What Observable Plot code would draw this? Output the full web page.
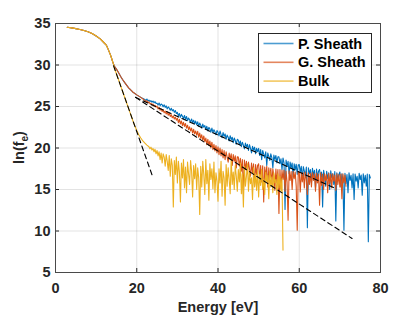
<!DOCTYPE html>
<html><head><meta charset="utf-8">
<script src="https://cdn.jsdelivr.net/npm/d3@7"></script>
<script src="https://cdn.jsdelivr.net/npm/@observablehq/plot@0.6"></script>
<style>
html,body{margin:0;padding:0;background:#fff;}
</style>
</head><body><div id="chart"></div>
<script>
// ---- tick labels / categories ----
const xTicks = [0, 20, 40, 60, 80];
const yTicks = [5, 10, 15, 20, 25, 30, 35];
const seriesNames = ["P. Sheath", "G. Sheath", "Bulk"];
const seriesColors = ["#0072BD", "#D95319", "#EDB120"];
const xLabel = "Energy [eV]";

// ---- common low-energy part (all three series) ----
const headEnergy = [2.9, 4, 5, 6, 7, 8, 9, 10, 11, 12, 12.5, 13, 13.5, 13.75, 14, 14.25];
const headLnF = [34.55, 34.47, 34.38, 34.28, 34.16, 34.0, 33.8, 33.5, 33.15, 32.65, 32.4, 31.85, 31.25, 30.9, 30.5, 30.15];

// ---- smooth sheath part (shared by P. and G. sheath) ----
const sheathEnergy = [14.5, 15, 15.5, 16, 16.5, 17, 18, 19, 20, 21];
const sheathLnF = [29.85, 29.5, 29.1, 28.65, 28.25, 27.9, 27.25, 26.75, 26.4, 26.1];

// ---- smooth bulk part ----
const bulkSmoothEnergy = [14.5, 15, 15.5, 16, 16.5, 17, 17.5, 18, 18.5, 19, 19.5, 20, 20.5, 21, 21.5, 22, 22.5];
const bulkSmoothLnF = [29.6, 28.95, 28.25, 27.55, 26.85, 26.15, 25.45, 24.75, 24.05, 23.35, 22.7, 22.1, 21.6, 21.2, 20.85, 20.6, 20.35];

// ---- noisy parts, sampled every 0.25 eV ----
const noiseStep = 0.25;
const pSheathNoiseStart = 22;
const pSheathNoise = [
 25.85,25.72,25.90,25.66,25.78,25.60,25.70,25.52,25.66,25.45,25.58,25.38,
 25.40,25.18,25.42,25.10,25.30,25.22,24.98,25.20,24.90,25.08,24.72,24.95,24.80,24.55,24.78,24.48,24.62,24.30,24.52,24.15,
 24.30,23.85,24.15,23.70,24.05,23.82,23.55,23.92,23.45,23.80,23.30,23.62,23.40,23.12,23.50,23.05,23.35,22.92,23.25,22.80,
 23.15,22.62,23.00,22.75,22.40,22.88,22.50,22.70,22.25,22.62,22.05,22.48,22.30,21.90,22.40,21.85,22.20,21.95,21.60,22.10,
 21.90,21.45,22.05,21.60,21.25,21.85,21.40,21.70,21.05,21.55,21.30,20.85,21.48,21.00,21.30,20.65,21.20,20.90,20.45,21.05,
 20.95,20.40,20.85,20.15,20.70,20.35,19.90,20.60,20.10,20.45,19.70,20.40,19.95,19.40,20.20,19.75,20.10,19.30,19.95,19.55,
 19.95,19.10,19.80,18.60,19.70,19.25,18.80,19.55,17.90,19.40,19.00,18.50,19.30,18.85,17.60,19.15,18.60,19.10,18.20,18.95,
 18.95,18.10,18.70,17.40,18.80,18.20,12.60,18.55,17.80,18.40,16.90,18.30,17.60,18.20,16.50,18.10,17.40,18.05,16.80,17.95,
 18.00,17.10,17.80,16.20,17.75,17.20,16.60,17.70,10.40,17.60,16.90,17.40,15.80,17.55,16.70,17.30,15.20,17.45,16.40,17.20,
 17.40,16.50,17.10,12.90,17.30,16.60,15.40,17.20,16.30,17.00,15.00,17.25,16.40,16.90,15.60,17.15,11.20,17.00,16.20,16.80,
 17.10,15.30,16.90,16.20,10.10,16.95,15.70,16.80,14.60,17.00,16.10,16.70,15.20,16.90,13.80,16.85,16.00,16.60,15.20,16.95,
 16.20,16.75,14.30,16.90,15.80,16.70,15.40,16.85,8.70,16.80,16.40
];
const gSheathNoiseStart = 22;
const gSheathNoise = [
 25.72,25.58,25.70,25.45,25.55,25.32,25.40,25.20,25.30,25.05,25.15,24.92,
 25.05,24.70,24.88,24.55,24.72,24.40,24.60,24.25,24.45,24.10,24.35,23.95,24.20,23.80,24.02,23.65,23.85,23.50,23.72,23.35,
 23.60,23.05,23.45,22.90,23.25,22.70,23.10,22.60,22.95,22.40,22.75,22.20,22.55,22.05,22.40,21.80,22.25,21.70,22.05,21.55,
 22.00,21.30,21.80,21.15,21.60,20.90,21.45,20.75,21.20,20.40,21.05,20.30,20.85,20.00,20.70,19.80,20.45,19.65,20.30,19.40,
 20.15,19.20,20.00,19.05,19.80,18.80,19.70,18.60,19.55,18.90,18.30,19.40,18.65,19.30,17.90,19.20,18.40,19.05,17.60,18.95,
 18.90,17.80,18.75,17.20,18.60,14.50,18.55,17.40,18.40,16.90,18.30,17.50,16.60,18.20,17.00,18.10,15.40,18.00,16.80,17.90,
 18.10,16.20,17.90,15.90,17.85,13.50,17.70,16.50,17.80,15.30,17.60,16.40,17.55,15.70,17.50,16.60,14.90,17.45,15.80,17.40,
 12.10,17.40,15.10,17.30,16.20,17.35,14.80,17.20,15.90,11.30,17.25,16.10,17.15,15.00,17.20,16.30,17.10,15.40,10.10,17.15,
 17.10,14.70,17.05,15.90,17.00,15.20,17.10,16.20,14.40,17.00,15.60,16.95,15.30,17.05,16.10,16.90,14.80,16.95,15.80,16.85,
 13.10,17.00,15.50,16.85,15.00,16.90,16.10,16.80,14.60,16.95,15.70,16.85,15.20,16.90,16.00,16.75,14.90,16.90,15.60,16.80,
 15.30,16.85,13.90,16.90,15.80,16.75,15.40
];
const bulkNoiseStart = 23;
const bulkNoise = [
 20.15,19.90,20.10,19.75,19.95,19.55,19.85,19.30,
 19.70,19.05,19.55,18.60,19.40,18.20,19.30,18.90,17.80,19.20,18.40,17.30,19.10,16.60,18.70,17.90,12.90,18.50,16.80,18.90,
 15.80,18.40,17.10,13.50,18.20,16.40,18.60,15.20,17.70,14.60,18.30,16.90,15.60,18.50,17.20,14.10,17.90,16.30,18.10,15.00,
 17.60,16.40,12.00,17.80,15.30,18.40,16.80,14.40,18.60,15.70,17.30,13.70,18.10,16.20,17.50,15.10,18.30,14.60,17.00,16.00,
 13.60,17.50,15.80,18.40,14.20,17.20,16.40,13.10,18.00,15.40,17.60,16.20,14.50,18.70,15.60,17.10,15.00,17.90,16.60,14.80,
 17.40,15.90,18.20,14.50,16.90,12.90,17.80,15.40,16.60,18.10,14.80,17.20,15.70,16.40,13.80,17.60,15.30,16.90,14.90,17.30,
 14.10,16.80,15.50,17.40,15.00,16.30,14.40,17.10,15.90,16.70,13.90,17.20,15.30,16.50,14.60,17.00,15.80,16.20,14.40,16.90,
 15.20,16.60,14.80,16.30,7.70
];

// ---- exponential fit lines (dashed) ----
const fitBulkEnergy = [14.3, 23.8];
const fitBulkLnF = [29.9, 16.7];
const fitPEnergy = [19.7, 69];
const fitPLnF = [26.1, 15.1];
const fitGEnergy = [19.7, 73];
const fitGLnF = [26.1, 9.1];

// ---- build tables ----
const rows = (E, Y) => E.map((e, i) => ({energy: e, lnf: Y[i]}));
const gridRows = (start, Y) => Y.map((y, i) => ({energy: start + i * noiseStep, lnf: y}));
const head = rows(headEnergy, headLnF);
const sheathSmooth = rows(sheathEnergy, sheathLnF);
const pData = [...head, ...sheathSmooth, ...gridRows(pSheathNoiseStart, pSheathNoise)];
const gData = [...head, ...sheathSmooth, ...gridRows(gSheathNoiseStart, gSheathNoise)];
const bData = [...head, ...rows(bulkSmoothEnergy, bulkSmoothLnF), ...gridRows(bulkNoiseStart, bulkNoise)];
const fits = [rows(fitBulkEnergy, fitBulkLnF), rows(fitPEnergy, fitPLnF), rows(fitGEnergy, fitGLnF)];

const W = 420, H = 315, mL = 55, mR = 40, mT = 23, mB = 43;
const pw = W - mL - mR, ph = H - mT - mB;
const axisColor = "#262626";
const font = "'Liberation Sans', Arial, Helvetica, sans-serif";

const plot = Plot.plot({
  width: W, height: H,
  marginLeft: mL, marginRight: mR, marginTop: mT, marginBottom: mB,
  x: {domain: [0, 80]},
  y: {domain: [5, 35]},
  style: {fontFamily: font, fontSize: "14.5px", fontWeight: "bold", color: axisColor, background: "#fff"},
  marks: [
    Plot.gridX(xTicks, {stroke: axisColor, strokeOpacity: 0.13, strokeWidth: 1}),
    Plot.gridY(yTicks, {stroke: axisColor, strokeOpacity: 0.13, strokeWidth: 1}),
    Plot.line(pData, {x: "energy", y: "lnf", stroke: seriesColors[0], strokeWidth: 1.1}),
    Plot.line(gData, {x: "energy", y: "lnf", stroke: seriesColors[1], strokeWidth: 1.1}),
    Plot.line(bData, {x: "energy", y: "lnf", stroke: seriesColors[2], strokeWidth: 1.1}),
    ...fits.map(f => Plot.line(f, {x: "energy", y: "lnf", stroke: "#000", strokeWidth: 1.1, strokeDasharray: "5,3.5"})),
    Plot.tickX(xTicks, {x: d => d, insetTop: ph - 4, stroke: axisColor}),
    Plot.tickX(xTicks, {x: d => d, insetBottom: ph - 4, stroke: axisColor}),
    Plot.tickY(yTicks, {y: d => d, insetRight: pw - 4, stroke: axisColor}),
    Plot.tickY(yTicks, {y: d => d, insetLeft: pw - 4, stroke: axisColor}),
    Plot.frame({stroke: "#4a4a4a", strokeWidth: 1}),
    Plot.axisX(xTicks, {tickSize: 0, tickPadding: 10, label: null, fill: axisColor, fontWeight: "bold"}),
    Plot.axisY(yTicks, {tickSize: 0, tickPadding: 5, label: null, fill: axisColor, fontWeight: "bold"}),
    Plot.text([xLabel], {frameAnchor: "bottom", lineAnchor: "bottom", dy: 39, fill: axisColor, fontWeight: "bold", fontSize: 14.5})
  ]
});
document.getElementById("chart").appendChild(plot);

const svg = d3.select(plot);
// y label with subscript
const yl = svg.append("text")
  .attr("transform", `translate(24,${mT + ph / 2}) rotate(-90)`)
  .attr("text-anchor", "middle")
  .attr("font-family", font).attr("font-weight", "bold").attr("font-size", 14.5)
  .attr("fill", axisColor);
yl.append("tspan").text("ln(f");
yl.append("tspan").attr("font-size", 10).attr("dy", 4).text("e");
yl.append("tspan").attr("dy", -4).text(")");

// legend
const lg = svg.append("g").attr("transform", "translate(258.5,33.5)");
lg.append("rect").attr("width", 113).attr("height", 59).attr("fill", "#fff").attr("stroke", axisColor).attr("stroke-width", 1);
seriesNames.forEach((name, i) => {
  const y = 10 + i * 18.8;
  lg.append("line").attr("x1", 5).attr("x2", 35).attr("y1", y).attr("y2", y)
    .attr("stroke", seriesColors[i]).attr("stroke-width", 1.6).attr("stroke-opacity", 0.7);
  lg.append("text").attr("x", 39.5).attr("y", y).attr("dy", "0.35em")
    .attr("text-anchor", "start")
    .attr("font-family", font).attr("font-weight", "bold").attr("font-size", 14.5)
    .attr("fill", "#000").text(name);
});
</script>
</body></html>
